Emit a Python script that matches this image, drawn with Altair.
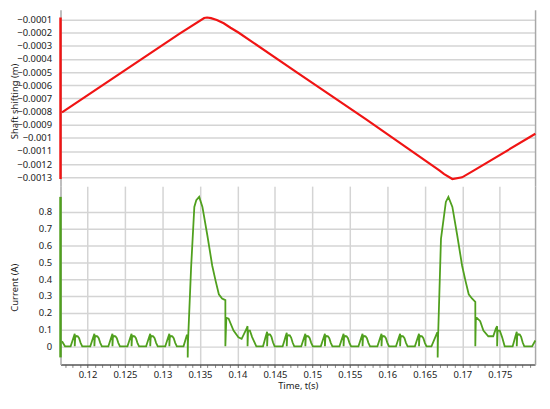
import altair as alt
import pandas as pd

# ---------------- data ----------------
# Shaft shifting (m) vs time (s)
shaft_t = [0.11660, 0.13229, 0.13556, 0.13595, 0.13647, 0.13725, 0.13817, 0.13908, 0.14013,
           0.14797, 0.15712, 0.16693, 0.16758, 0.16867, 0.16997, 0.17150, 0.17974]
shaft_m = [-0.000807, -0.000208, -0.000089, -0.000085, -0.000090, -0.000104, -0.000129, -0.000163,
           -0.000199, -0.000504, -0.000858, -0.001248, -0.001276, -0.001313, -0.001300, -0.001249,
           -0.000969]

# Current (A): small PWM bumps (spike times + amplitude) and two large pulses
bump_t = [0.11830, 0.12092, 0.12333, 0.12588, 0.12837, 0.13092,
          0.14396, 0.14658, 0.14906, 0.15167, 0.15416, 0.15669, 0.15922, 0.16170, 0.16422,
          0.17726]
bump_amp = [0.06, 0.06, 0.06, 0.06, 0.06, 0.06,
            0.07, 0.065, 0.06, 0.06, 0.06, 0.06, 0.06, 0.06, 0.06,
            0.07]
# shape of one bump (time offset from spike, fraction of amplitude)
bump_dt = [-0.00055, -0.00035, -0.00018, 0.0, 0.0, 0.00006, 0.00022, 0.00040, 0.00058,
           0.00078, 0.00100]
bump_k = [0.0, 0.45, 0.85, 1.25, 0.0, 0.9, 1.02, 1.0, 0.8, 0.35, 0.0]

start_t = [0.11660, 0.11700]
start_a = [0.03, 0.0]

pulse1_t = [0.13281, 0.13324, 0.13337, 0.13337, 0.13340, 0.13382, 0.13425, 0.13451, 0.13490,
            0.13533, 0.13599, 0.13664, 0.13709, 0.13752, 0.13795, 0.13839, 0.13839, 0.13852,
            0.13882, 0.13948, 0.14013, 0.14056, 0.14122, 0.14135, 0.14135, 0.14142, 0.14166,
            0.14196, 0.14252]
pulse1_a = [0.0, 0.065, 0.065, -0.066, 0.02, 0.47, 0.83, 0.87, 0.89,
            0.83, 0.66, 0.48, 0.39, 0.31, 0.285, 0.275, 0.0, 0.17,
            0.165, 0.094, 0.054, 0.045, 0.105, 0.12, 0.0, 0.095, 0.094,
            0.055, 0.0]

pulse2_t = [0.16588, 0.16663, 0.16671, 0.16671, 0.16674, 0.16715, 0.16780, 0.16814, 0.16867,
            0.16932, 0.16997, 0.17042, 0.17085, 0.17128, 0.17173, 0.17173, 0.17180, 0.17193,
            0.17238, 0.17281, 0.17346, 0.17412, 0.17447, 0.17464, 0.17464, 0.17471, 0.17499,
            0.17530, 0.17565]
pulse2_a = [0.0, 0.08, 0.08, -0.066, 0.02, 0.64, 0.86, 0.89, 0.83,
            0.66, 0.48, 0.39, 0.31, 0.285, 0.265, 0.0, 0.17, 0.17,
            0.15, 0.094, 0.06, 0.06, 0.105, 0.12, 0.0, 0.095, 0.094,
            0.055, 0.0]

end_t = [0.17930, 0.17974]
end_a = [0.0, 0.035]

x_major = [0.12, 0.125, 0.13, 0.135, 0.14, 0.145, 0.15, 0.155, 0.16, 0.165, 0.17, 0.175]
y_top_ticks = [-0.0001, -0.0002, -0.0003, -0.0004, -0.0005, -0.0006, -0.0007,
               -0.0008, -0.0009, -0.001, -0.0011, -0.0012, -0.0013]
y_bot_ticks = [0, 0.1, 0.2, 0.3, 0.4, 0.5, 0.6, 0.7, 0.8]
x_minor = [round(0.117 + 0.001 * i, 3) for i in range(63)]

# ---------------- build tables ----------------
def bumps(times, amps):
    pts = []
    for ts, a in zip(times, amps):
        for dt, k in zip(bump_dt, bump_k):
            pts.append((ts + dt, a * k))
    return pts

pts = list(zip(start_t, start_a))
pts += bumps(bump_t[:6], bump_amp[:6])
pts += list(zip(pulse1_t, pulse1_a))
pts += bumps(bump_t[6:15], bump_amp[6:15])
pts += list(zip(pulse2_t, pulse2_a))
pts += bumps(bump_t[15:], bump_amp[15:])
pts += list(zip(end_t, end_a))
cur_df = pd.DataFrame({"t": [p[0] for p in pts], "a": [p[1] for p in pts],
                       "i": list(range(len(pts)))})
top_df = pd.DataFrame({"t": shaft_t, "s": shaft_m, "i": list(range(len(shaft_t)))})

RED = "#f01414"
GREEN = "#50a01e"
GRID = "#d4d4d4"
FRAME = "#a8a8a8"
TXT = "#222222"
FONT = "Noto Sans"

W = 479
H_TOP = 178
H_BOT = 180

xscale = alt.Scale(domain=[0.1164, 0.1797], nice=False, zero=False)
ytop_scale = alt.Scale(domain=[-0.001367, -0.0000264], nice=False, zero=False)
ybot_scale = alt.Scale(domain=[-0.108, 0.954], nice=False, zero=False)

# ---------------- top panel ----------------
top_line = alt.Chart(top_df).mark_line(color=RED, strokeWidth=2.2).encode(
    x=alt.X("t:Q", scale=xscale,
            axis=alt.Axis(orient="top", values=x_major, labels=False, ticks=False, title=None,
                          grid=True, gridColor=GRID, gridWidth=1.5,
                          domainColor=FRAME, domainWidth=1.5)),
    y=alt.Y("s:Q", scale=ytop_scale,
            axis=alt.Axis(orient="left", values=y_top_ticks, format="~g",
                          title="Shaft shifting (m)",
                          titleX=-41, titleY=92, ticks=False, labelPadding=9,
                          grid=True, gridColor=GRID, gridWidth=1.5,
                          domainColor=FRAME, domainWidth=1.5)),
    order="i:Q",
)
top_ghost = alt.Chart(top_df).mark_line(opacity=0).encode(
    x=alt.X("t:Q", scale=xscale, axis=None),
    y=alt.Y("s:Q", scale=ytop_scale,
            axis=alt.Axis(orient="right", labels=False, ticks=False, grid=False, title=None,
                          domainColor=FRAME, domainWidth=1.5)),
)
top_bar = alt.Chart(top_df).mark_rule(color=RED, strokeWidth=2.5).encode(
    x=alt.value(0),
    y=alt.Y("min(s):Q", scale=ytop_scale, axis=None),
    y2="max(s):Q",
)
top = alt.layer(top_ghost, top_line, top_bar).resolve_axis(y="independent").properties(
    width=W, height=H_TOP)

# ---------------- bottom panel ----------------
bot_line = alt.Chart(cur_df).mark_line(color=GREEN, strokeWidth=1.8).encode(
    x=alt.X("t:Q", scale=xscale,
            axis=alt.Axis(orient="bottom", values=x_major, format="~g", title="Time, t(s)",
                          tickSize=3, tickColor="#888888", labelPadding=2, titlePadding=2,
                          grid=True, gridColor=GRID, gridWidth=1.5,
                          domainColor="#555555", domainWidth=1.5)),
    y=alt.Y("a:Q", scale=ybot_scale,
            axis=alt.Axis(orient="left", values=y_bot_ticks, format="~g", title="Current  (A)",
                          titleX=-41, titleY=102, ticks=False, labelPadding=9,
                          grid=True, gridColor=GRID, gridWidth=1.5,
                          domainColor=FRAME, domainWidth=1.5)),
    order="i:Q",
)
bot_ghost = alt.Chart(cur_df).mark_line(opacity=0).encode(
    x=alt.X("t:Q", scale=xscale,
            axis=alt.Axis(orient="bottom", values=x_minor, labels=False, domain=False,
                          grid=False, title=None, tickSize=3, tickColor="#888888")),
    y=alt.Y("a:Q", scale=ybot_scale,
            axis=alt.Axis(orient="right", labels=False, ticks=False, grid=False, title=None,
                          domainColor=FRAME, domainWidth=1.5)),
)
bot_bar = alt.Chart(cur_df).mark_rule(color=GREEN, strokeWidth=2.5).encode(
    x=alt.value(0),
    y=alt.Y("min(a):Q", scale=ybot_scale, axis=None),
    y2="max(a):Q",
)
bottom = alt.layer(bot_ghost, bot_line, bot_bar).resolve_axis(
    x="independent", y="independent").properties(width=W, height=H_BOT)

chart = alt.vconcat(top, bottom, spacing=0).properties(
    padding={"left": 2, "top": 0, "right": 2, "bottom": 1}
).configure_view(stroke=None).configure_axis(
    labelFont=FONT, titleFont=FONT, labelFontSize=9.5, titleFontSize=9.5,
    titleFontWeight="normal", labelColor=TXT, titleColor=TXT,
)

chart.save("out.html", embed_options={"renderer": "svg", "actions": False})
